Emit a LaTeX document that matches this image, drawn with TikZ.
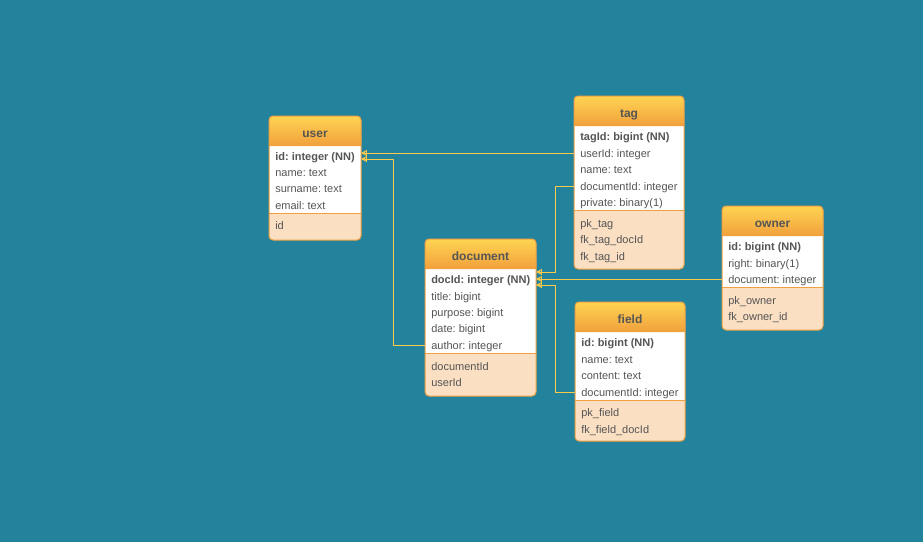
\documentclass[tikz,border=0pt]{standalone}
\usepackage{fontspec}
\setmainfont{Liberation Sans}
\frenchspacing
\usetikzlibrary{arrows.meta,calc}

\definecolor{bgblue}{HTML}{23839C}
\definecolor{headtop}{HTML}{FFD452}
\definecolor{headbot}{HTML}{F0A03C}
\definecolor{edgecol}{HTML}{F0A040}
\definecolor{footfill}{HTML}{FADFC3}
\definecolor{linecol}{HTML}{FFC94A}
\definecolor{txtcol}{HTML}{555555}

% ER table frame: name, left, top, right, header bottom, divider, bottom, title
\newcommand\ertable[8]{%
  \coordinate (#1-nw) at (#2,#3);
  \coordinate (#1-se) at (#4,#7);
  \fill[footfill, rounded corners=3] (#1-nw) rectangle (#1-se);
  \fill[white] (#2,#5) rectangle (#4,#6);
  \shade[top color=headtop, bottom color=headbot]
    (#2,#5) [rounded corners=3] -- (#2,#3) -- (#4,#3) [sharp corners] -- (#4,#5) -- cycle;
  \draw[edgecol, line width=0.75pt] (#2,#6) -- (#4,#6);
  \draw[edgecol, line width=0.75pt, rounded corners=3] (#1-nw) rectangle (#1-se);
  \node[titletext] (#1-title) at ({(#2+#4)/2},{(#3+#5)/2}) {#8};
}

\begin{document}
\begin{tikzpicture}[x=0.75pt, y=-0.75pt,
  titletext/.style={font=\fontsize{9pt}{10pt}\selectfont\bfseries, text=txtcol,
    inner sep=0pt, text height=6.5pt, text depth=0pt, yshift=-1.6pt},
  row/.style={anchor=west, inner xsep=4.5pt, inner ysep=0pt, text height=7.0pt, text depth=0pt,
    font=\fontsize{8.25pt}{9pt}\selectfont, text=txtcol},
  keyrow/.style={row, font=\fontsize{8.25pt}{9pt}\selectfont\bfseries},
  conn/.style={draw=linecol, line width=0.75pt, -{Bar[width=5pt]Stealth[length=4pt,width=4pt]}}]

\fill[bgblue] (0,0) rectangle (923,542);
\useasboundingbox (0,0) rectangle (923,542);

% user
\ertable{user}{269}{116}{361}{146}{213}{240}{user}
\node[keyrow] (user-id) at (269,156) {id: integer (NN)};
\node[row] (user-name) at (269,172) {name: text};
\node[row] (user-surname) at (269,188) {surname: text};
\node[row] (user-email) at (269,205) {email: text};
\node[row] (user-k1) at (269,225) {id};

% document
\ertable{doc}{425}{239}{536}{269}{353}{396}{document}
\node[keyrow] (doc-docId) at (425,279) {docId: integer (NN)};
\node[row] (doc-title) at (425,296) {title: bigint};
\node[row] (doc-purpose) at (425,312) {purpose: bigint};
\node[row] (doc-date) at (425,328) {date: bigint};
\node[row] (doc-author) at (425,345) {author: integer};
\node[row] (doc-k1) at (425,366) {documentId};
\node[row] (doc-k2) at (425,382) {userId};

% tag
\ertable{tag}{574}{96}{684}{126}{210}{269}{tag}
\node[keyrow] (tag-tagId) at (574,136) {tagId: bigint (NN)};
\node[row] (tag-userId) at (574,153) {userId: integer};
\node[row] (tag-name) at (574,169) {name: text};
\node[row] (tag-documentId) at (574,186) {documentId: integer};
\node[row] (tag-private) at (574,202) {private: binary(1)};
\node[row] (tag-k1) at (574,223) {pk\_tag};
\node[row] (tag-k2) at (574,239) {fk\_tag\_docId};
\node[row] (tag-k3) at (574,256) {fk\_tag\_id};

% owner
\ertable{owner}{722}{206}{823}{236}{287}{330}{owner}
\node[keyrow] (owner-id) at (722,246) {id: bigint (NN)};
\node[row] (owner-right) at (722,263) {right: binary(1)};
\node[row] (owner-document) at (722,279) {document: integer};
\node[row] (owner-k1) at (722,300) {pk\_owner};
\node[row] (owner-k2) at (722,316) {fk\_owner\_id};

% field
\ertable{field}{575}{302}{685}{332}{400}{441}{field}
\node[keyrow] (field-id) at (575,342) {id: bigint (NN)};
\node[row] (field-name) at (575,359) {name: text};
\node[row] (field-content) at (575,375) {content: text};
\node[row] (field-documentId) at (575,392) {documentId: integer};
\node[row] (field-k1) at (575,412) {pk\_field};
\node[row] (field-k2) at (575,429) {fk\_field\_docId};

% relations
\draw[conn] (tag-userId.west) -- (tag-userId.west -| user-se);
\draw[conn] (doc-author.west) -- ++(-32,0) |- ($(user-id.west -| user-se)+(0,3)$);
\draw[conn] (tag-documentId.west) -- ++(-19,0) |- ($(doc-docId.west -| doc-se)+(0,-7)$);
\draw[conn] (owner-document.west) -- (owner-document.west -| doc-se);
\draw[conn] (field-documentId.west) -- ++(-20,0) |- ($(doc-docId.west -| doc-se)+(0,6)$);

\end{tikzpicture}
\end{document}
